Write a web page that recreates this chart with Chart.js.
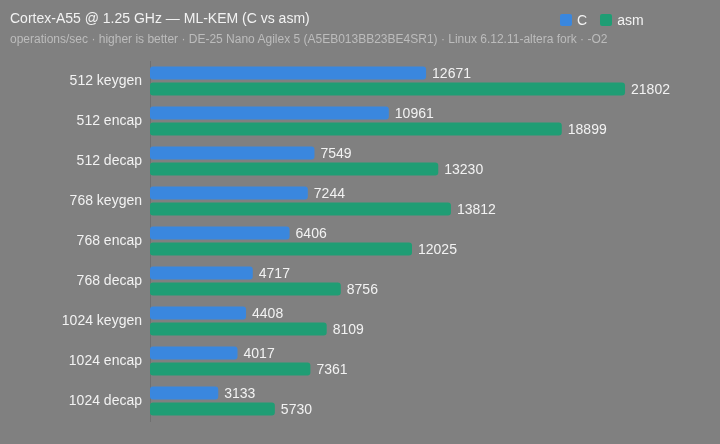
<!DOCTYPE html>
<html>
<head>
<meta charset="utf-8">
<script src="https://cdn.jsdelivr.net/npm/chart.js@4.4.1/dist/chart.umd.min.js"></script>
<style>
  html, body { margin: 0; padding: 0; background: #808080; }
  body { width: 720px; height: 444px; position: relative; overflow: hidden; font-family: "Liberation Sans", Arial, sans-serif; }
  #wrap { position: absolute; left: 0; top: 0; width: 720px; height: 444px; }
  .title { position: absolute; left: 10px; top: 10px; font-size: 14px; color: #f2f2f2; white-space: nowrap; }
  .sub { position: absolute; left: 10px; top: 32px; font-size: 12px; color: #bcbcbc; white-space: nowrap; }
  .legend { position: absolute; left: 560px; top: 12px; font-size: 14px; color: #f2f2f2; display: flex; align-items: center; }
  .legend span.box { display: inline-block; width: 12px; height: 12px; border-radius: 2px; margin-right: 5px; }
  .legend span.item { display: inline-flex; align-items: center; margin-right: 13px; }
</style>
</head>
<body>
<div id="wrap"><canvas id="kemChart" width="720" height="444"></canvas></div>
<div class="title">Cortex-A55 @ 1.25 GHz — ML-KEM (C vs asm)</div>
<div class="sub">operations/sec · higher is better · DE-25 Nano Agilex 5 (A5EB013BB23BE4SR1) · Linux 6.12.11-altera fork · -O2</div>
<div class="legend" id="legend"></div>
<script>
const labels = ['512 keygen', '512 encap', '512 decap', '768 keygen', '768 encap', '768 decap', '1024 keygen', '1024 encap', '1024 decap'];
const cOps = [12671, 10961, 7549, 7244, 6406, 4717, 4408, 4017, 3133];
const asmOps = [21802, 18899, 13230, 13812, 12025, 8756, 8109, 7361, 5730];

const blue = '#3a87de';
const green = '#1f9d74';

// value next to the end of each bar
const valueLabels = {
    id: 'valueLabels',
    afterDatasetsDraw(chart) {
        const ctx = chart.ctx;
        ctx.save();
        ctx.font = '14px "Liberation Sans", Arial, sans-serif';
        ctx.fillStyle = '#f2f2f2';
        ctx.textAlign = 'left';
        ctx.textBaseline = 'middle';
        chart.data.datasets.forEach((ds, i) => {
            chart.getDatasetMeta(i).data.forEach((bar, j) => {
                ctx.fillText(String(ds.data[j]), bar.x + 6, bar.y + 1);
            });
        });
        ctx.restore();
    }
};

const chart = new Chart(document.getElementById('kemChart'), {
    type: 'bar',
    data: {
        labels: labels,
        datasets: [
            { label: 'C', data: cOps, backgroundColor: blue, borderRadius: 3, borderSkipped: false },
            { label: 'asm', data: asmOps, backgroundColor: green, borderRadius: 3, borderSkipped: false }
        ]
    },
    options: {
        indexAxis: 'y',
        responsive: false,
        animation: false,
        barPercentage: 0.8,
        categoryPercentage: 0.8,
        layout: { padding: { top: 61, bottom: 23, left: 0, right: 25.3 } },
        plugins: {
            legend: { display: false },
            tooltip: { enabled: false }
        },
        scales: {
            x: {
                min: 0,
                max: 25000,
                display: false
            },
            y: {
                grid: { display: false, drawTicks: false },
                border: { display: true, color: 'rgba(0,0,0,0.12)', width: 1 },
                ticks: {
                    color: '#f2f2f2',
                    padding: 8,
                    font: { family: '"Liberation Sans", Arial, sans-serif', size: 14 }
                },
                afterFit(scale) { scale.width = 150; }
            }
        }
    },
    plugins: [valueLabels]
});

const legendEl = document.getElementById('legend');
chart.data.datasets.forEach(ds => {
    const item = document.createElement('span');
    item.className = 'item';
    item.innerHTML = '<span class="box" style="background:' + ds.backgroundColor + '"></span>' + ds.label;
    legendEl.appendChild(item);
});
</script>
</body>
</html>
